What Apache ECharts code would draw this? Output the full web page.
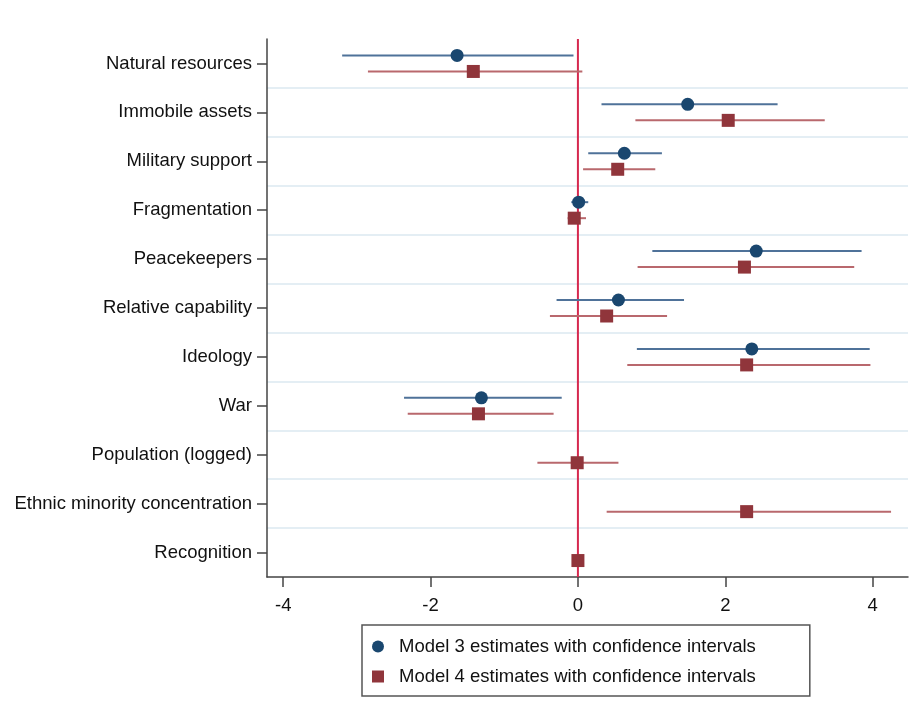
<!DOCTYPE html>
<html><head><meta charset="utf-8">
<script src="https://cdn.jsdelivr.net/npm/echarts@6/dist/echarts.min.js"></script>
<style>html,body{margin:0;padding:0;background:#fff}#c{width:916px;height:723px}</style>
</head><body><div id="c"></div>
<script>
const categories = ["Natural resources","Immobile assets","Military support","Fragmentation","Peacekeepers","Relative capability","Ideology","War","Population (logged)","Ethnic minority concentration","Recognition"];
// Model 3: [low, estimate, high]; null where not estimated
const model3Low  = [-3.20, 0.32, 0.14, -0.09, 1.01, -0.29, 0.80, -2.36, null, null, null];
const model3Est  = [-1.64, 1.49, 0.63,  0.01, 2.42,  0.55, 2.36, -1.31, null, null, null];
const model3High = [-0.06, 2.71, 1.14,  0.14, 3.85,  1.44, 3.96, -0.22, null, null, null];
// Model 4
const model4Low  = [-2.85, 0.78, 0.07, -0.14, 0.81, -0.38, 0.67, -2.31, -0.55, 0.39, 0.00];
const model4Est  = [-1.42, 2.04, 0.54, -0.05, 2.26,  0.39, 2.29, -1.35, -0.01, 2.29, 0.00];
const model4High = [ 0.06, 3.35, 1.05,  0.11, 3.75,  1.21, 3.97, -0.33,  0.55, 4.25, 0.00];
const xTicks = [-4, -2, 0, 2, 4];
const referenceLine = [0];
const seriesNames = ["Model 3 estimates with confidence intervals","Model 4 estimates with confidence intervals"];

function build(lo, est, hi){
  const out = [];
  for (let i = 0; i < categories.length; i++) {
    if (est[i] === null) continue;
    out.push([lo[i], est[i], hi[i], i]);
  }
  return out;
}

function makeRender(dy, lineColor, markColor, shape){
  return function(params, api){
    const y = api.value(3);
    const pl = api.coord([api.value(0), y]);
    const pp = api.coord([api.value(1), y]);
    const ph = api.coord([api.value(2), y]);
    const yy = pp[1] + dy;
    const children = [{
      type: 'line',
      shape: {x1: pl[0], y1: yy, x2: ph[0], y2: yy},
      style: {stroke: lineColor, lineWidth: 2}
    }];
    if (shape === 'circle') {
      children.push({type: 'circle', shape: {cx: pp[0], cy: yy, r: 6.5}, style: {fill: markColor}});
    } else {
      children.push({type: 'rect', shape: {x: pp[0]-6.5, y: yy-6.5, width: 13, height: 13}, style: {fill: markColor}});
    }
    return {type: 'group', children: children};
  };
}

const chart = echarts.init(document.getElementById('c'), null, {renderer: 'canvas'});
const font = 'Liberation Sans, Arial, Helvetica, sans-serif';
chart.setOption({
  animation: false,
  backgroundColor: '#fff',
  grid: {left: 267, right: 8, top: 39, bottom: 146},
  xAxis: {
    type: 'value', min: -4.22, max: 4.48,
    axisLine: {show: true, onZero: false, lineStyle: {color: '#444', width: 1.5}},
    axisTick: {show: true, length: 10, lineStyle: {color: '#444', width: 1.5}, customValues: xTicks},
    axisLabel: {color: '#111', fontSize: 18.5, fontFamily: font, margin: 19, customValues: xTicks},
    splitLine: {show: false}
  },
  yAxis: {
    type: 'category', data: categories, inverse: true,
    axisLine: {show: true, onZero: false, lineStyle: {color: '#444', width: 1.5}},
    axisTick: {show: true, alignWithLabel: true, length: 10, lineStyle: {color: '#444', width: 1.5}},
    axisLabel: {color: '#111', fontSize: 18.5, fontFamily: font, margin: 15},
    splitLine: {show: true, showMinLine: false, showMaxLine: false, lineStyle: {color: '#e4eef4', width: 2}}
  },
  legend: {
    orient: 'vertical', left: 362, top: 625,
    padding: [12, 54, 10, 10], itemGap: 11,
    borderColor: '#555', borderWidth: 1.5,
    itemWidth: 12, itemHeight: 12,
    textStyle: {fontSize: 18.5, fontFamily: font, color: '#111', padding: [0, 0, 0, 10]},
    data: [{name: seriesNames[0], icon: 'circle'}, {name: seriesNames[1], icon: 'rect'}]
  },
  series: [
    {
      name: 'zero', type: 'custom', silent: true, z: 2,
      encode: {x: 0},
      data: referenceLine.map(v => [v]),
      renderItem: function(params, api){
        const cs = params.coordSys;
        const x = api.coord([api.value(0), 0])[0];
        return {type: 'line', shape: {x1: x, y1: cs.y, x2: x, y2: cs.y + cs.height},
                style: {stroke: '#d6294f', lineWidth: 2}};
      }
    },
    {
      name: seriesNames[0], type: 'custom', itemStyle: {color: '#1a476f'},
      renderItem: makeRender(-8, '#4f7299', '#1a476f', 'circle'),
      encode: {x: [0, 1, 2], y: 3},
      data: build(model3Low, model3Est, model3High), z: 3
    },
    {
      name: seriesNames[1], type: 'custom', itemStyle: {color: '#90353b'},
      renderItem: makeRender(8, '#b9686d', '#90353b', 'rect'),
      encode: {x: [0, 1, 2], y: 3},
      data: build(model4Low, model4Est, model4High), z: 4
    }
  ]
});
</script></body></html>
